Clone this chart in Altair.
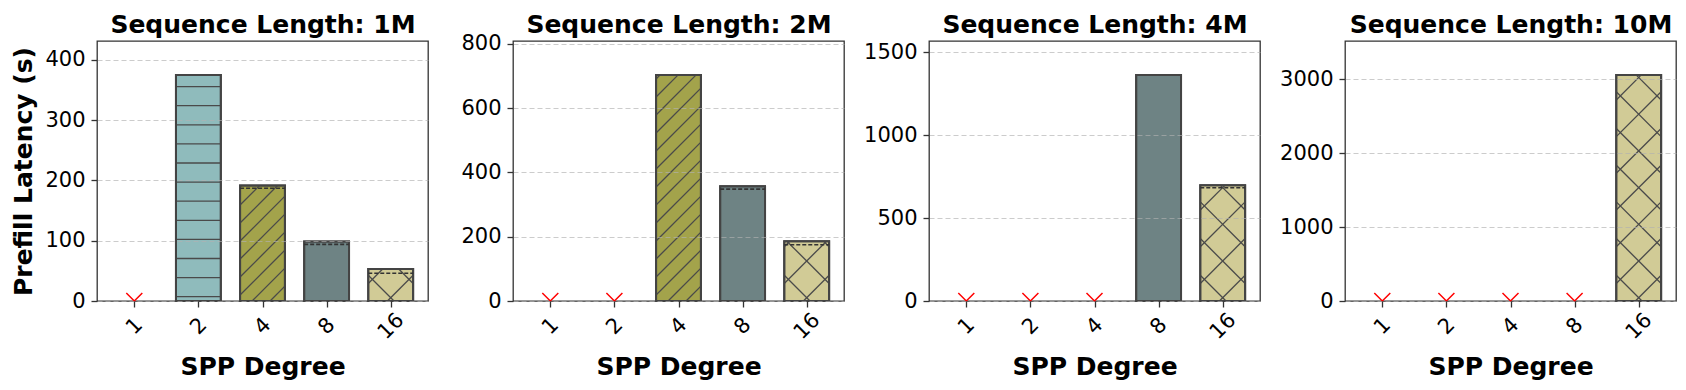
import json
import altair as alt
import pandas as pd

# ---------------- data ----------------
PANELS = ["Sequence Length: 1M", "Sequence Length: 2M", "Sequence Length: 4M", "Sequence Length: 10M"]
SPP = ["1", "2", "4", "8", "16"]

# None = out of memory (red marker at zero)
LAT_1M = [None, 375, 191.5, 98.8, 53]
LAT_2M = [None, None, 703, 357, 186]
LAT_4M = [None, None, None, 1362, 698]
LAT_10M = [None, None, None, None, 3062]

# dashed reference level inside the bar
DASH_1M = [None, None, 187, 94, 46]
DASH_2M = [None, None, None, 348, 175]
DASH_4M = [None, None, None, None, 682]
DASH_10M = [None, None, None, None, None]

YTICKS_1M = [0, 100, 200, 300, 400]
YTICKS_2M = [0, 200, 400, 600, 800]
YTICKS_4M = [0, 500, 1000, 1500]
YTICKS_10M = [0, 1000, 2000, 3000]

# ---------------- styles ----------------
FILLS = {"1": "#999999", "2": "#8FBBBC", "4": "#A3A34B", "8": "#6E8384", "16": "#D1CB96"}
HATCH = {"1": "", "2": "-", "4": "/", "8": "", "16": "x"}
FONT = "DejaVu Sans"
W, H = 331, 260
XPAD = 0.582
HALF = 0.35
HEAD = 1.15
SX = W / (len(SPP) - 1 + 2 * XPAD)

HATCH_SPACING = {"-": 19.1, "/": 18.0, "x": 36.7}
HATCH_PHASE = {"-": 4.3, "/": 6.0, "x": 3.3}


def hatch_rows(i, v, kind, sy):
    rows = []
    if not kind:
        return rows
    w = 2 * HALF * SX
    h = v * sy
    S = HATCH_SPACING[kind]
    ph = HATCH_PHASE[kind]

    def add(x1, y1, x2, y2):
        rows.append({"xa": i - HALF + x1 / SX, "xb": i - HALF + x2 / SX,
                     "ya": y1 / sy, "yb": y2 / sy})

    if kind == "-":
        y = ph
        while y < h - 1:
            add(0, y, w, y)
            y += S
        return rows

    def up_family(c0):
        # lines y = x + c
        c = c0
        while c > -w:
            c -= S
        while c < h:
            lo, hi = max(0, -c), min(w, h - c)
            if hi - lo > 0.5:
                add(lo, lo + c, hi, hi + c)
            c += S

    def down_family(c0):
        # lines y = -x + c
        c = c0
        while c > 0:
            c -= S
        while c < h + w:
            lo, hi = max(0, c - h), min(w, c)
            if hi - lo > 0.5:
                add(lo, c - lo, hi, c - hi)
            c += S

    if kind == "/":
        up_family(ph)
    elif kind == "x":
        xm = w / 2
        up_family(ph - xm)
        down_family(ph + xm)
    return rows


def panel_chart(k, title, lat, dash, ticks):
    ymax = max(v for v in lat if v is not None) * HEAD
    sy = H / ymax
    bars, ooms, dashes, hatches = [], [], [], []
    for i, (s, v) in enumerate(zip(SPP, lat)):
        if v is None:
            ooms.append({"xa": i, "ya": 0})
        else:
            bars.append({"xa": i - HALF, "xb": i + HALF, "ya": v, "yb": 0, "fill": FILLS[s]})
            hatches += hatch_rows(i, v, HATCH[s], sy)
        if dash[i] is not None:
            dashes.append({"xa": i - HALF, "xb": i + HALF, "ya": dash[i]})

    xs = alt.Scale(domain=[-XPAD, len(SPP) - 1 + XPAD], nice=False, zero=False)
    ys = alt.Scale(domain=[0, ymax], nice=False, zero=True)

    x_bottom = alt.Axis(values=list(range(len(SPP))), labelExpr=json.dumps(SPP) + "[datum.value]",
                        labelAngle=315, labelAlign="center", labelBaseline="middle", labelPadding=19,
                        labelFontSize=21, labelColor="black", labelFont=FONT,
                        tickSize=6, tickWidth=1.3, tickColor="#333333", domain=False, grid=False,
                        title="SPP Degree", titleFontSize=25, titleFontWeight="bold", titleFont=FONT,
                        titleColor="black", titleBaseline="top", titleY=53.5, titleX=W / 2,
                        titleAlign="center", zindex=1)
    # top axis carries only the panel title
    x_top = alt.Axis(orient="top", labels=False, ticks=False, domain=False, grid=False,
                     title=title, titleFontSize=25, titleFontWeight="bold", titleFont=FONT,
                     titleColor="black", titleBaseline="alphabetic", titleY=-9, titleX=W / 2,
                     titleAlign="center")
    y_kw = dict(values=ticks, format="d", labelFontSize=21, labelColor="black", labelFont=FONT,
                labelPadding=6, tickSize=6, tickWidth=1.3, tickColor="#333333", domain=False,
                grid=True, gridColor="#b0b0b0", gridOpacity=0.65, gridDash=[5, 3], gridWidth=1.1,
                zindex=1)
    if k == 0:
        y_axis = alt.Axis(title="Prefill Latency (s)", titleFontSize=25, titleFontWeight="bold",
                          titleFont=FONT, titleColor="black", titleAngle=270, titleBaseline="bottom",
                          titleAlign="center", titleX=-61, titleY=H / 2, **y_kw)
    else:
        y_axis = alt.Axis(title=None, **y_kw)

    Y = alt.Y("ya:Q", scale=ys, axis=y_axis)

    def X(axis):
        return alt.X("xa:Q", scale=xs, axis=axis)

    bar_df = pd.DataFrame(bars)
    layers = [
        alt.Chart(bar_df).mark_bar(stroke="#444444", strokeWidth=2).encode(
            x=X(x_bottom), x2="xb:Q", y=Y, y2="yb:Q", fill=alt.Fill("fill:N", scale=None)),
    ]
    if hatches:
        layers.append(alt.Chart(pd.DataFrame(hatches)).mark_rule(color="#4a4a4a", strokeWidth=1.3).encode(
            x=X(None), x2="xb:Q", y=Y, y2="yb:Q"))
    layers.append(alt.Chart(bar_df).mark_bar(fillOpacity=0, stroke="#444444", strokeWidth=2).encode(
        x=X(x_top), x2="xb:Q", y=Y, y2="yb:Q"))
    if dashes:
        layers.append(alt.Chart(pd.DataFrame(dashes)).mark_rule(color="#333333", strokeWidth=1.6,
                                                               strokeDash=[4, 2]).encode(
            x=X(None), x2="xb:Q", y=Y))
    if ooms:
        layers.append(alt.Chart(pd.DataFrame(ooms)).mark_point(
            shape="M-1,-1L0,0L1,-1", filled=False, color="#ff0000", strokeWidth=1.5,
            size=256, opacity=1).encode(x=X(None), y=Y))

    return alt.layer(*layers).resolve_axis(x="independent").properties(width=W, height=H)


panels = [
    panel_chart(0, PANELS[0], LAT_1M, DASH_1M, YTICKS_1M),
    panel_chart(1, PANELS[1], LAT_2M, DASH_2M, YTICKS_2M),
    panel_chart(2, PANELS[2], LAT_4M, DASH_4M, YTICKS_4M),
    panel_chart(3, PANELS[3], LAT_10M, DASH_10M, YTICKS_10M),
]

chart = alt.hconcat(*panels, spacing=85, bounds="flush").properties(
    padding={"left": 2, "top": 3, "right": 0, "bottom": 0},
).configure(font=FONT).configure_view(stroke="#333333", strokeWidth=1.3)

chart.save("out.html", embed_options={"renderer": "svg", "actions": False})
